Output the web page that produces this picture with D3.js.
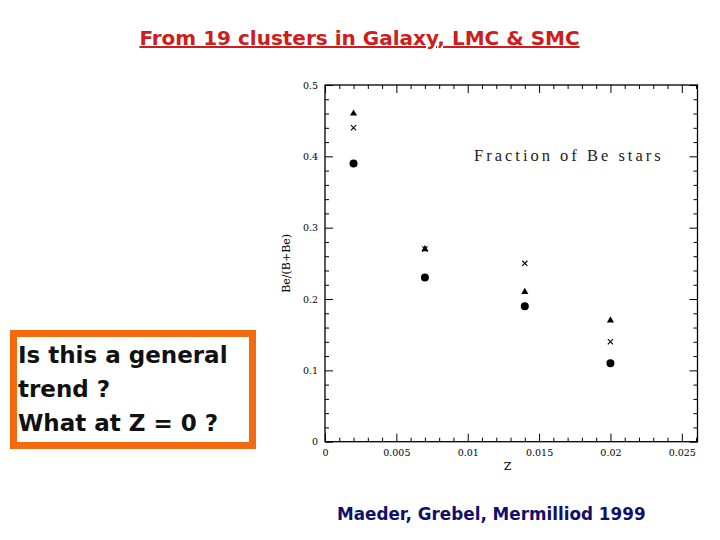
<!DOCTYPE html>
<html><head><meta charset="utf-8">
<script src="https://cdn.jsdelivr.net/npm/d3@7"></script>
<style>body{margin:0;background:#fff}svg{display:block}</style>
</head><body>
<script>
const zValues = [0.002, 0.007, 0.014, 0.02];
const triangleSeries = [0.46, 0.27, 0.21, 0.17];
const crossSeries = [0.44, 0.27, 0.25, 0.14];
const circleSeries = [0.39, 0.23, 0.19, 0.11];
const xTickLabels = ["0", "0.005", "0.01", "0.015", "0.02", "0.025"];
const yTickLabels = ["0", "0.1", "0.2", "0.3", "0.4", "0.5"];
const titleText = "From 19 clusters in Galaxy, LMC & SMC";
const boxLines = ["Is this a general", "trend ?", "What at Z = 0 ?"];
const citeText = "Maeder, Grebel, Mermilliod 1999";

const W = 720, H = 540;
const svg = d3.select("body").append("svg").attr("width", W).attr("height", H);
svg.append("rect").attr("width", W).attr("height", H).attr("fill", "#fff");

const pL = 325, pR = 697.5, pT = 85, pB = 441.7;
const x = d3.scaleLinear().domain([0, 0.0261]).range([pL, pR]);
const y = d3.scaleLinear().domain([0, 0.5]).range([pB, pT]);

// Title
svg.append("text").attr("x", 359.5).attr("y", 45).attr("text-anchor", "middle")
  .attr("font-family", "DejaVu Sans").attr("font-weight", "bold").attr("font-size", 20)
  .attr("fill", "#d01c1c").attr("text-decoration", "underline").text(titleText);

const g = svg.append("g");
const axisFont = "DejaVu Serif";
const xMajor = xTickLabels.map(Number);
const yMajor = yTickLabels.map(Number);
const xMinor = d3.range(0, 0.0261, 0.001).filter((v, i) => i % 5 !== 0);
const yMinor = d3.range(0, 0.5001, 0.02).filter((v, i) => i % 5 !== 0);

function styleAxis(sel) {
  sel.select(".domain").remove();
  sel.selectAll("line").attr("stroke", "#000").attr("stroke-width", 1);
  sel.selectAll("text").attr("font-family", axisFont).attr("font-size", 9.5).attr("fill", "#000");
}
// bottom
g.append("g").attr("transform", `translate(0,${pB})`)
  .call(d3.axisBottom(x).tickValues(xMajor).tickFormat((d, i) => xTickLabels[i]).tickSize(-8).tickPadding(8))
  .call(styleAxis);
g.append("g").attr("transform", `translate(0,${pB})`)
  .call(d3.axisBottom(x).tickValues(xMinor).tickFormat("").tickSize(-4)).call(styleAxis);
// top
g.append("g").attr("transform", `translate(0,${pT})`)
  .call(d3.axisTop(x).tickValues(xMajor).tickFormat("").tickSize(-8)).call(styleAxis);
g.append("g").attr("transform", `translate(0,${pT})`)
  .call(d3.axisTop(x).tickValues(xMinor).tickFormat("").tickSize(-4)).call(styleAxis);
// left
g.append("g").attr("transform", `translate(${pL},0)`)
  .call(d3.axisLeft(y).tickValues(yMajor).tickFormat((d, i) => yTickLabels[i]).tickSize(-8).tickPadding(7))
  .call(styleAxis);
g.append("g").attr("transform", `translate(${pL},0)`)
  .call(d3.axisLeft(y).tickValues(yMinor).tickFormat("").tickSize(-4)).call(styleAxis);
// right
g.append("g").attr("transform", `translate(${pR},0)`)
  .call(d3.axisRight(y).tickValues(yMajor).tickFormat("").tickSize(-8)).call(styleAxis);
g.append("g").attr("transform", `translate(${pR},0)`)
  .call(d3.axisRight(y).tickValues(yMinor).tickFormat("").tickSize(-4)).call(styleAxis);

// Frame
g.append("rect").attr("x", pL).attr("y", pT).attr("width", pR - pL).attr("height", pB - pT)
  .attr("fill", "none").attr("stroke", "#000").attr("stroke-width", 1.3);

// Axis titles
g.append("text").attr("x", x(0.0128)).attr("y", pB + 28).attr("text-anchor", "middle")
  .attr("font-family", axisFont).attr("font-size", 11).text("Z");
g.append("text").attr("transform", `translate(${pL - 35},${y(0.25)}) rotate(-90)`)
  .attr("text-anchor", "middle").attr("font-family", axisFont).attr("font-size", 11).text("Be/(B+Be)");

// Annotation
g.append("text").attr("x", 474).attr("y", 161).attr("font-family", "Liberation Serif")
  .attr("font-size", 16.5).attr("letter-spacing", 3.0).attr("fill", "#222").text("Fraction of Be stars");

// Markers
const tri = d3.symbol().type(d3.symbolTriangle).size(22);
zValues.forEach((z, i) => {
  g.append("path").attr("d", tri).attr("transform", `translate(${x(z)},${y(triangleSeries[i])})`).attr("fill", "#000");
  const cx = x(z), cy = y(crossSeries[i]), s = 2.6;
  g.append("path").attr("d", `M${cx - s},${cy - s}L${cx + s},${cy + s}M${cx - s},${cy + s}L${cx + s},${cy - s}`)
    .attr("stroke", "#000").attr("stroke-width", 1.1);
  g.append("circle").attr("cx", x(z)).attr("cy", y(circleSeries[i])).attr("r", 4).attr("fill", "#000");
});

// Orange box
svg.append("rect").attr("x", 13.5).attr("y", 333.5).attr("width", 239).attr("height", 112)
  .attr("fill", "#fff").attr("stroke", "#f26b10").attr("stroke-width", 7);
boxLines.forEach((l, i) => {
  svg.append("text").attr("x", 18).attr("y", 363 + i * 34).attr("font-family", "DejaVu Sans")
    .attr("font-weight", "bold").attr("font-size", 23).attr("fill", "#111").text(l);
});

// Citation
svg.append("text").attr("x", 337).attr("y", 520).attr("font-family", "DejaVu Sans")
  .attr("font-weight", "bold").attr("font-size", 16.8).attr("fill", "#10106a").text(citeText);
</script>
</body></html>
